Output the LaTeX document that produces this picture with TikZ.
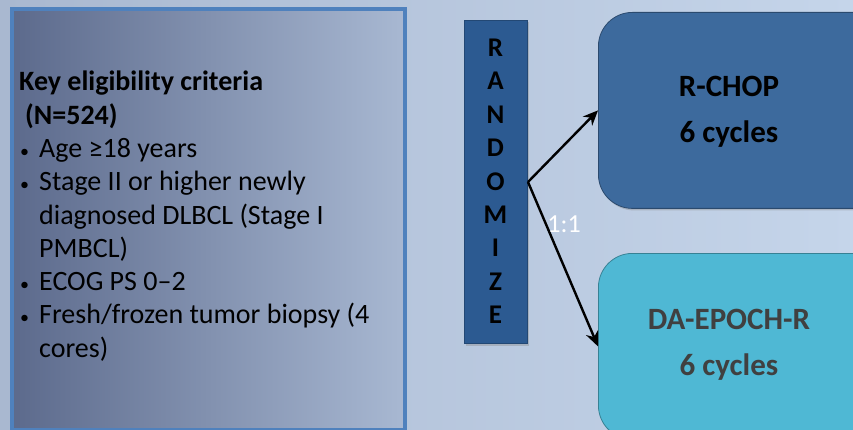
\documentclass[tikz,border=0pt]{standalone}
\usepackage{fontspec}
\setmainfont{Carlito}
\usetikzlibrary{arrows.meta,shadows}
\definecolor{bgL}{HTML}{A9B8D0}
\definecolor{bgR}{HTML}{C5D5EA}
\definecolor{boxL}{HTML}{5C6A8C}
\definecolor{boxR}{HTML}{A8B8D2}
\definecolor{boxBorder}{HTML}{4F81BD}
\definecolor{randFill}{HTML}{2C5A91}
\definecolor{rchopFill}{HTML}{3D6A9D}
\definecolor{daFill}{HTML}{4FB8D4}
\definecolor{daText}{HTML}{404040}
\newcommand{\critbullet}{\makebox[20pt][l]{\hspace*{1pt}{\fontsize{18}{18}\selectfont\textbullet}}}
\tikzset{
  armbox/.style={rounded corners=34pt, draw=#1!70!black, line width=0.8pt, fill=#1, inner sep=0pt,
    drop shadow={shadow xshift=1.5pt, shadow yshift=-2pt, opacity=0.35}},
  armarrow/.style={line width=2.4pt, -{Stealth[length=15pt,width=13pt]}},
  armtext/.style={font=\fontsize{31}{46}\selectfont\bfseries, align=center},
  randletter/.style={font=\fontsize{27}{27}\selectfont\bfseries, inner sep=0pt, anchor=base},
}
\begin{document}
\begin{tikzpicture}[x=1pt,y=-1pt]
\useasboundingbox (0,0) rectangle (853,430);
\clip (0,0) rectangle (853,430);
% background
\shade[left color=bgL, right color=bgR] (0,0) rectangle (853,430);
% left box
\node[draw=boxBorder, line width=4pt, minimum width=393pt, minimum height=421pt,
      left color=boxL, right color=boxR, anchor=north west, inner sep=0pt] (crit) at (9.5,7) {};
\node[anchor=north west, inner sep=0pt, align=left, font=\fontsize{28}{33.3}\selectfont] (crittext) at (19,71)
{\textbf{Key eligibility criteria}\\
\hspace*{6pt}\textbf{(N=524)}\\
\critbullet Age ≥18 years\\
\critbullet Stage II or higher newly\\
\hspace*{20pt}diagnosed DLBCL (Stage I\\
\hspace*{20pt}PMBCL)\\
\critbullet ECOG PS 0–2\\
\critbullet Fresh/frozen tumor biopsy (4\\
\hspace*{20pt}cores)};
% randomize bar
\node[draw=randFill!80!black, line width=1pt, fill=randFill, minimum width=63pt, minimum height=323pt,
      anchor=north west, inner sep=0pt,
      drop shadow={shadow xshift=1.5pt, shadow yshift=-2pt, opacity=0.35}] (rand) at (464,20) {};
\foreach \l [count=\i from 0] in {R,A,N,D,O,M,I,Z,E}
  \node[randletter] (rl\i) at (495.5, 56.5+33.4*\i) {\l};
% arms
\node[armbox=rchopFill, minimum width=290pt, minimum height=196pt, anchor=north west] (rchop) at (598,12) {};
\node[armtext] (rchoptext) at (729,112) {R-CHOP\\6 cycles};
\node[armbox=daFill, minimum width=290pt, minimum height=186pt, anchor=north west] (da) at (598,253) {};
\node[armtext, text=daText] (datext) at (729,345) {DA-EPOCH-R\\6 cycles};
% arrows
\coordinate (split) at (rand.east);
\draw[armarrow] (split) -- (rchop.west);
\draw[armarrow] (split) -- (da.west);
\node[text=white, font=\fontsize{26}{26}\selectfont, anchor=base] (ratio) at (564,233) {1:1};
\end{tikzpicture}
\end{document}
